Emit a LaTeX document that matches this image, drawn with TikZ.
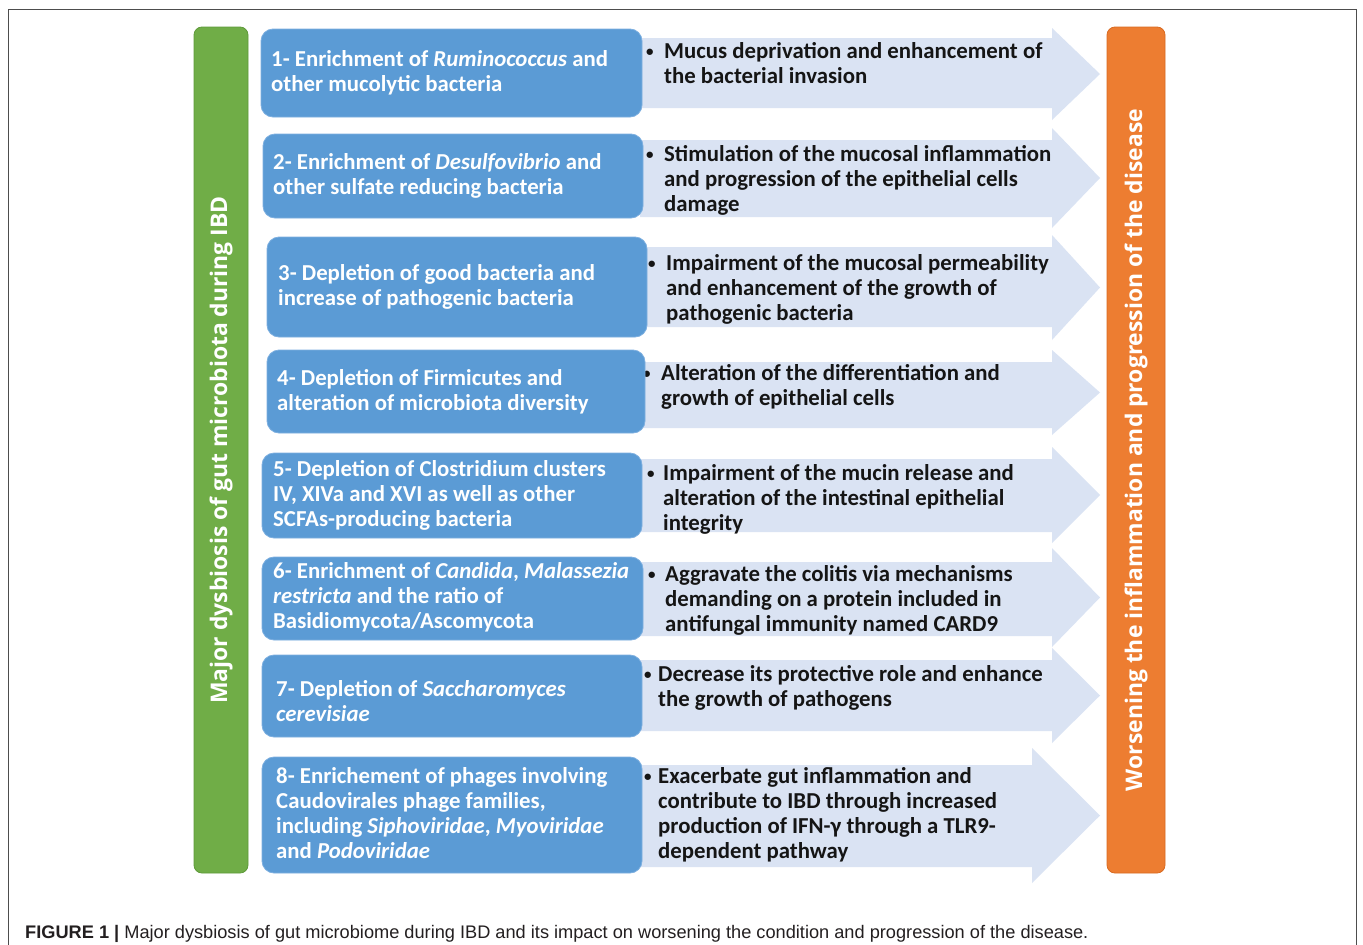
\documentclass[tikz,border=0pt]{standalone}
\usepackage{fontspec}
\setmainfont{Carlito}
\newfontfamily\barfont{Open Sans}
\newfontfamily\capfont{Liberation Sans}
\definecolor{boxblue}{HTML}{5B9BD5}
\definecolor{boxedge}{HTML}{7DAFE0}
\definecolor{arrowblue}{HTML}{DAE3F3}
\definecolor{bargreen}{HTML}{70AD47}
\definecolor{greenedge}{HTML}{5E9A3A}
\definecolor{barorange}{HTML}{ED7D31}
\definecolor{orangeedge}{HTML}{D96A20}
\definecolor{txtdark}{HTML}{151515}
\definecolor{framegray}{HTML}{4D4D4D}
\definecolor{capgray}{HTML}{231F20}
\tikzset{
  bluebox/.style={draw=boxedge, line width=0.8pt, fill=boxblue, rounded corners=12pt, anchor=north west, inner sep=0pt, outer sep=0pt},
  boxtext/.style={anchor=west, align=left, text=white, font=\fontsize{22.8}{25}\selectfont\bfseries, inner sep=0pt},
  arrtext/.style={anchor=west, text=txtdark, font=\fontsize{22.8}{25}\selectfont\bfseries, inner sep=0pt},
  barbox/.style={rounded corners=8pt, anchor=north west, inner sep=0pt, outer sep=0pt, line width=0.8pt},
  bartext/.style={rotate=90, text=white, font=\barfont\bfseries\fontsize{22.9}{26}\selectfont, inner sep=0pt},
  arrowshape/.style={fill=arrowblue},
}
% block arrow: head top, body top, tip y, body bottom, head bottom, head start x
\newcommand\blockarr[6]{\fill[arrowshape] (640,#2) -- (#6,#2) -- (#6,#1) -- (1100,#3) -- (#6,#5) -- (#6,#4) -- (640,#4) -- cycle;}
\newcommand\smallbul{\raisebox{1.6pt}{\fontsize{15}{15}\selectfont\textbullet}}
\newcommand\bullist[2]{\renewcommand\arraystretch{1}\begin{tabular}{@{}p{#1}@{}l@{}}\smallbul & #2\end{tabular}}
\begin{document}
\begin{tikzpicture}[x=1pt,y=-1pt]
\useasboundingbox (0,0) rectangle (1363,945);
\fill[white] (0,0) rectangle (1363,945);
\draw[framegray, line width=0.9pt] (8,946) -- (8,9) -- (1356,9) -- (1356,946);

% arrows
\blockarr{28}{38}{74}{108}{120}{1052}
\blockarr{128}{140}{178}{217}{228}{1052}
\blockarr{235}{247}{287.5}{327}{340}{1052}
\blockarr{350}{362}{392.5}{428}{435}{1052}
\blockarr{447}{459}{495}{532}{543}{1052}
\blockarr{548}{562}{597.5}{636}{647}{1052}
\blockarr{648}{660}{695.5}{731}{743}{1052}
\blockarr{748}{765}{815.5}{867}{883}{1032}

% arrow texts
\node[arrtext] (a1) at (646,66) {\bullist{18pt}{Mucus deprivation and enhancement of\\ & the bacterial invasion}};
\node[arrtext] (a2) at (646,181) {\bullist{18pt}{Stimulation of the mucosal inflammation\\ & and progression of the epithelial cells\\ & damage}};
\node[arrtext] (a3) at (648,290) {\bullist{18pt}{Impairment of the mucosal permeability\\ & and enhancement of the growth of\\ & pathogenic bacteria}};
\node[arrtext] (a4) at (643,388) {\bullist{18pt}{Alteration of the differentiation and\\ & growth of epithelial cells}};
\node[arrtext] (a5) at (647,500) {\bullist{16pt}{Impairment of the mucin release and\\ & alteration of the intestinal epithelial\\ & integrity}};
\node[arrtext] (a6) at (648,601) {\bullist{17pt}{Aggravate the colitis via mechanisms\\ & demanding on a protein included in\\ & antifungal immunity named CARD9}};
\node[arrtext] (a7) at (644,689) {\bullist{14pt}{Decrease its protective role and enhance\\ & the growth of pathogens}};
\node[arrtext] (a8) at (644,816) {\bullist{14pt}{Exacerbate gut inflammation and\\ & contribute to IBD through increased\\ & production of IFN-γ through a TLR9-\\ & dependent pathway}};

% blue boxes
\node[bluebox, minimum width=381pt, minimum height=88pt] (b1) at (261,29) {};
\node[bluebox, minimum width=380pt, minimum height=84pt] (b2) at (263,134) {};
\node[bluebox, minimum width=380pt, minimum height=100pt] (b3) at (267,237) {};
\node[bluebox, minimum width=378pt, minimum height=83pt] (b4) at (267,350) {};
\node[bluebox, minimum width=380pt, minimum height=85pt] (b5) at (262,453) {};
\node[bluebox, minimum width=381pt, minimum height=83pt] (b6) at (262,557) {};
\node[bluebox, minimum width=380pt, minimum height=82pt] (b7) at (262,655) {};
\node[bluebox, minimum width=380pt, minimum height=116pt] (b8) at (262,757) {};

\node[boxtext] (t1) at (271,73) {1- Enrichment of \textit{Ruminococcus} and\\other mucolytic bacteria};
\node[boxtext] (t2) at (273,176) {2- Enrichment of \textit{Desulfovibrio} and\\other sulfate reducing bacteria};
\node[boxtext] (t3) at (278,287) {3- Depletion of good bacteria and\\increase of pathogenic bacteria};
\node[boxtext] (t4) at (277,392) {4- Depletion of Firmicutes and\\alteration of microbiota diversity};
\node[boxtext] (t5) at (273,495) {5- Depletion of Clostridium clusters\\IV, XIVa and XVI as well as other\\SCFAs-producing bacteria};
\node[boxtext] (t6) at (273,597) {6- Enrichment of \textit{Candida}, \textit{Malassezia}\\\textit{restricta} and the ratio of\\Basidiomycota/Ascomycota};
\node[boxtext] (t7) at (276,701) {7- Depletion of \textit{Saccharomyces}\\\textit{cerevisiae}};
\node[boxtext] (t8) at (276,813) {8- Enrichement of phages involving\\Caudovirales phage families,\\including \textit{Siphoviridae}, \textit{Myoviridae}\\and \textit{Podoviridae}};

% side bars
\node[barbox, draw=greenedge, fill=bargreen, minimum width=54pt, minimum height=846pt] (gbar) at (194,27) {};
\node[barbox, draw=orangeedge, fill=barorange, minimum width=58pt, minimum height=846pt] (obar) at (1107,27) {};
\node[bartext] (gtext) at (gbar.center) {Major dysbiosis of gut microbiota during IBD};
\node[bartext] (otext) at (obar.center) {Worsening the inflammation and progression of the disease};

% caption
\node[anchor=base west, inner sep=0pt, text=capgray, font=\capfont\fontsize{18.2}{21}\selectfont] (cap) at (25,938) {\textbf{FIGURE 1 |} Major dysbiosis of gut microbiome during IBD and its impact on worsening the condition and progression of the disease.};
\end{tikzpicture}
\end{document}
